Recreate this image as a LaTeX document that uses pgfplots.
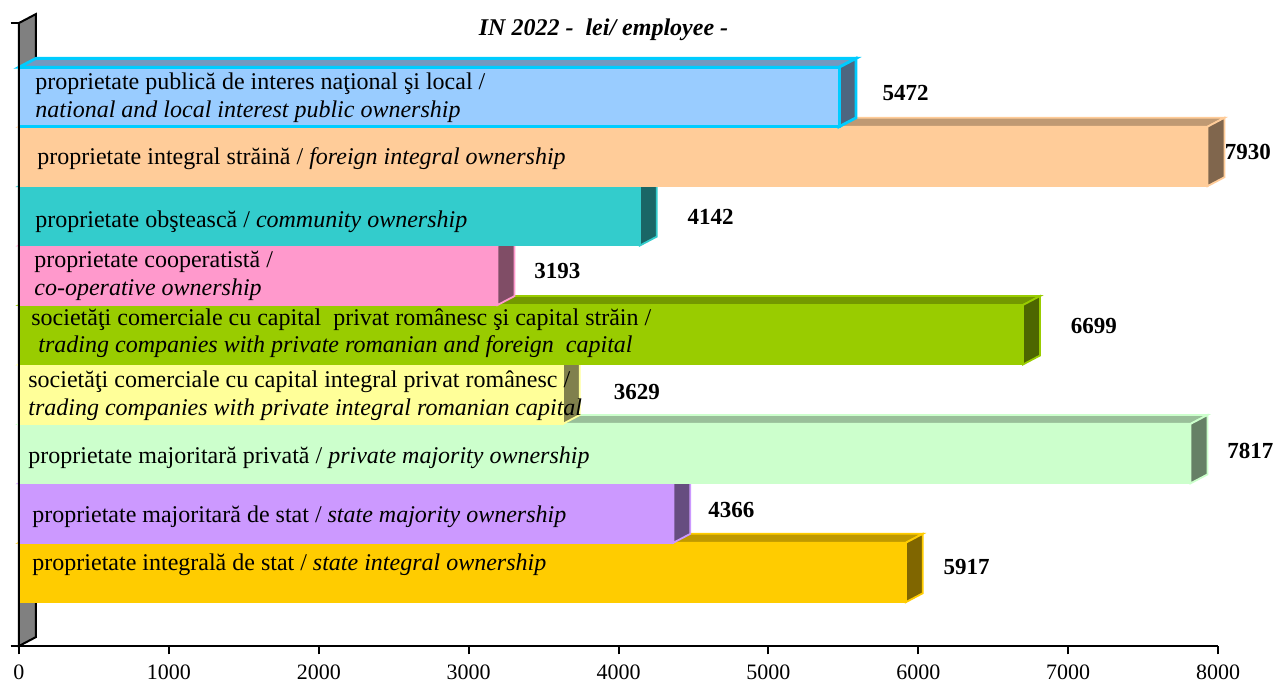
\documentclass[border=0pt]{standalone}
\usepackage{fontspec}
\setmainfont{Liberation Serif}
\usepackage{pgfplots}
\pgfplotsset{compat=1.18}
\definecolor{f1}{HTML}{99CCFF}\definecolor{t1}{HTML}{7399BF}\definecolor{s1}{HTML}{4D6680}\definecolor{e1}{HTML}{00CCFF}
\definecolor{f2}{HTML}{FFCC99}\definecolor{t2}{HTML}{BF9973}\definecolor{s2}{HTML}{80664D}
\definecolor{f3}{HTML}{33CCCC}\definecolor{t3}{HTML}{269999}\definecolor{s3}{HTML}{1A6666}
\definecolor{f4}{HTML}{FF99CC}\definecolor{t4}{HTML}{BF7399}\definecolor{s4}{HTML}{804D66}
\definecolor{f5}{HTML}{99CC00}\definecolor{t5}{HTML}{739900}\definecolor{s5}{HTML}{4D6600}
\definecolor{f6}{HTML}{FFFF99}\definecolor{t6}{HTML}{BFBF73}\definecolor{s6}{HTML}{80804D}
\definecolor{f7}{HTML}{CCFFCC}\definecolor{t7}{HTML}{99BF99}\definecolor{s7}{HTML}{668066}
\definecolor{f8}{HTML}{CC99FF}\definecolor{t8}{HTML}{9973BF}\definecolor{s8}{HTML}{664D80}
\definecolor{f9}{HTML}{FFCC00}\definecolor{t9}{HTML}{BF9900}\definecolor{s9}{HTML}{806600}
\definecolor{wall}{HTML}{808080}
\pgfplotsset{
  face/.style={line width=0.9pt, line join=miter},
  front/.style={xbar, bar shift=0pt, bar width=1, line width=0.9pt, point meta=x,
    nodes near coords={\pgfmathprintnumber[fixed,precision=0,1000 sep={},assume math mode=true]{\pgfplotspointmeta}},
    nodes near coords style={anchor=west, inner sep=0pt, text=black, font=\fontsize{11.5}{13}\selectfont\bfseries}},
}
\begin{document}
\begin{tikzpicture}
\useasboundingbox (-9.5pt,-19pt) rectangle (628.5pt,323pt);
\begin{axis}[
  at={(0pt,0pt)}, anchor=south west, scale only axis,
  width=599.5pt, height=311.5pt,
  xmin=0, xmax=8000, ymin=-0.237, ymax=10.245,
  clip=false, axis on top,
  axis lines=left, axis line style={-, line width=1pt, black},
  xtick={0,1000,...,8000}, ytick={-0.237,10.245}, yticklabels={},
  tick align=outside, major tick length=4.2pt,
  tick style={line width=1pt, black},
  xticklabel style={font=\fontsize{11}{13}\selectfont, yshift=-1.5pt},
  /pgf/number format/1000 sep={},
  /pgf/number format/assume math mode=true,
]
% y wall
\addplot[fill=wall, draw=black, line width=1pt] coordinates {(0,-0.237) (113,-0.087) (113,10.395) (0,10.245)} --cycle;

% bar 9: state integral 5917
\addplot[face, fill=t9, draw=f9] coordinates {(0,1.5) (5917,1.5) (6030,1.65) (113,1.65)} --cycle;
\addplot[face, fill=s9, draw=f9] coordinates {(5917,0.5) (6030,0.65) (6030,1.65) (5917,1.5)} --cycle;
\addplot[front, fill=f9, draw=f9, every node near coord/.append style={xshift=18.5pt, yshift=2.5pt}] coordinates {(5917,1)};

% bar 8: state majority 4366
\addplot[face, fill=t8, draw=f8] coordinates {(0,2.5) (4366,2.5) (4479,2.65) (113,2.65)} --cycle;
\addplot[face, fill=s8, draw=f8] coordinates {(4366,1.5) (4479,1.65) (4479,2.65) (4366,2.5)} --cycle;
\addplot[front, fill=f8, draw=f8, every node near coord/.append style={xshift=17pt, yshift=1.3pt}] coordinates {(4366,2)};

% bar 7: private majority 7817
\addplot[face, fill=t7, draw=f7] coordinates {(0,3.5) (7817,3.5) (7930,3.65) (113,3.65)} --cycle;
\addplot[face, fill=s7, draw=f7] coordinates {(7817,2.5) (7930,2.65) (7930,3.65) (7817,3.5)} --cycle;
\addplot[front, fill=f7, draw=f7, every node near coord/.append style={xshift=18pt, yshift=1.5pt}] coordinates {(7817,3)};

% bar 6: trading integral romanian 3629
\addplot[face, fill=t6, draw=f6] coordinates {(0,4.5) (3629,4.5) (3742,4.65) (113,4.65)} --cycle;
\addplot[face, fill=s6, draw=f6] coordinates {(3629,3.5) (3742,3.65) (3742,4.65) (3629,4.5)} --cycle;
\addplot[front, fill=f6, draw=f6, every node near coord/.append style={xshift=25pt, yshift=1pt}] coordinates {(3629,4)};

% bar 5: trading romanian and foreign 6699
\addplot[face, fill=t5, draw=f5] coordinates {(0,5.5) (6699,5.5) (6812,5.65) (113,5.65)} --cycle;
\addplot[face, fill=s5, draw=f5] coordinates {(6699,4.5) (6812,4.65) (6812,5.65) (6699,5.5)} --cycle;
\addplot[front, fill=f5, draw=f5, every node near coord/.append style={xshift=23.5pt, yshift=4.2pt}] coordinates {(6699,5)};

% bar 4: co-operative 3193
\addplot[face, fill=t4, draw=f4] coordinates {(0,6.5) (3193,6.5) (3306,6.65) (113,6.65)} --cycle;
\addplot[face, fill=s4, draw=f4] coordinates {(3193,5.5) (3306,5.65) (3306,6.65) (3193,6.5)} --cycle;
\addplot[front, fill=f4, draw=f4, every node near coord/.append style={xshift=18pt, yshift=2pt}] coordinates {(3193,6)};

% bar 3: community 4142
\addplot[face, fill=t3, draw=f3] coordinates {(0,7.5) (4142,7.5) (4255,7.65) (113,7.65)} --cycle;
\addplot[face, fill=s3, draw=f3] coordinates {(4142,6.5) (4255,6.65) (4255,7.65) (4142,7.5)} --cycle;
\addplot[front, fill=f3, draw=f3, every node near coord/.append style={xshift=23.5pt, yshift=-0.5pt}] coordinates {(4142,7)};

% bar 2: foreign integral 7930
\addplot[face, fill=t2, draw=f2] coordinates {(0,8.5) (7930,8.5) (8043,8.65) (113,8.65)} --cycle;
\addplot[face, fill=s2, draw=f2] coordinates {(7930,7.5) (8043,7.65) (8043,8.65) (7930,8.5)} --cycle;
\addplot[front, fill=f2, draw=f2, every node near coord/.append style={xshift=8.2pt, yshift=2.2pt}] coordinates {(7930,8)};

% bar 1: public national and local 5472
\addplot[face, fill=t1, draw=e1, line width=1.4pt] coordinates {(0,9.5) (5472,9.5) (5585,9.65) (113,9.65)} --cycle;
\addplot[face, fill=s1, draw=e1, line width=1.4pt] coordinates {(5472,8.5) (5585,8.65) (5585,9.65) (5472,9.5)} --cycle;
\addplot[front, fill=f1, draw=e1, line width=1.4pt, every node near coord/.append style={xshift=21pt, yshift=2pt}] coordinates {(5472,9)};

% labels inside the bars
\begin{scope}[every node/.style={anchor=west, inner sep=0pt, yshift=-1pt, font=\fontsize{12}{14}\selectfont}]
\node at (axis cs:107,9.252) {proprietate publică de interes naţional şi local /};
\node at (axis cs:107,8.781) {\itshape national and local interest public ownership};
\node at (axis cs:120,7.991) {proprietate integral străină / \textit{foreign integral ownership}};
\node at (axis cs:107,6.932) {proprietate obştească / \textit{community ownership}};
\node at (axis cs:100,6.259) {proprietate cooperatistă /};
\node at (axis cs:100,5.788) {\itshape co-operative ownership};
\node at (axis cs:80,5.283) {societăţi comerciale cu capital\ \ privat românesc şi capital străin /};
\node at (axis cs:127,4.828) {\itshape trading companies with private romanian and foreign\ \ capital};
\node at (axis cs:60,4.240) {societăţi comerciale cu capital integral privat românesc /};
\node at (axis cs:60,3.767) {\itshape trading companies with private integral romanian capital};
\node at (axis cs:60,2.960) {proprietate majoritară privată / \textit{private majority ownership}};
\node at (axis cs:87,1.967) {proprietate majoritară de stat / \textit{state majority ownership}};
\node at (axis cs:87,1.160) {proprietate integrală de stat / \textit{state integral ownership}};
\end{scope}
\node[font=\fontsize{12}{14}\selectfont\bfseries\itshape, inner sep=0pt, yshift=-2pt] at (axis cs:3900,10.196) {IN 2022 -\ \ lei/ employee -};
\end{axis}
\end{tikzpicture}
\end{document}
